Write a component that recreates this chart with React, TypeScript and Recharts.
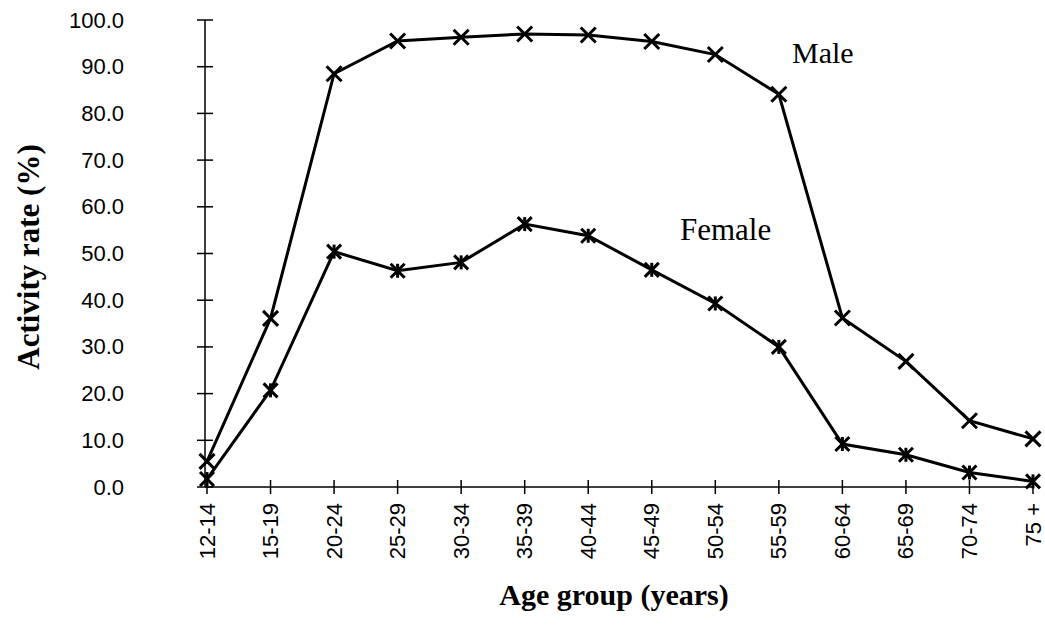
import React from 'react';
import { LineChart, Line, XAxis, YAxis } from 'recharts';

const ageGroups = ['12-14', '15-19', '20-24', '25-29', '30-34', '35-39', '40-44', '45-49', '50-54', '55-59', '60-64', '65-69', '70-74', '75 +'];
const maleRates = [5.5, 36.1, 88.5, 95.5, 96.3, 97.0, 96.8, 95.4, 92.6, 84.1, 36.2, 26.9, 14.2, 10.3];
const femaleRates = [1.7, 20.7, 50.4, 46.3, 48.1, 56.3, 53.8, 46.5, 39.3, 30.0, 9.2, 6.9, 3.1, 1.2];
const yTicks = [0, 10, 20, 30, 40, 50, 60, 70, 80, 90, 100];

const yTitle = 'Activity rate (%)';
const xTitle = 'Age group (years)';
const maleLabel = 'Male';
const femaleLabel = 'Female';

const data = ageGroups.map((g, i) => ({ group: g, male: maleRates[i], female: femaleRates[i] }));

const SANS = '"Liberation Sans", Arial, sans-serif';
const SERIF = '"Liberation Serif", "Times New Roman", serif';

function YTick(props: any) {
  const { x, y, payload } = props;
  return (
    <g>
      <line x1={x - 8} x2={x + 8} y1={y} y2={y} stroke="#000" strokeWidth={1.5} />
      <text x={x - 81} y={y} textAnchor="end" dominantBaseline="central" fontSize={22} fontFamily={SANS} fill="#000">
        {Number(payload.value).toFixed(1)}
      </text>
    </g>
  );
}

function XTick(props: any) {
  const { x, y, payload } = props;
  const ty = y + 16;
  return (
    <g>
      <line x1={x} x2={x} y1={y - 7} y2={y + 7} stroke="#000" strokeWidth={1.5} />
      <text
        x={x}
        y={ty}
        transform={`rotate(-90, ${x}, ${ty})`}
        textAnchor="end"
        dominantBaseline="central"
        fontSize={22}
        fontFamily={SANS}
        fill="#000"
      >
        {payload.value}
      </text>
    </g>
  );
}

function MaleDot(props: any) {
  const { cx, cy, index } = props;
  if (cx == null || cy == null) return <g key={`m-${index}`} />;
  const r = 7.5;
  return (
    <g key={`m-${index}`}>
      <line x1={cx - r} y1={cy - r} x2={cx + r} y2={cy + r} stroke="#000" strokeWidth={3} />
      <line x1={cx - r} y1={cy + r} x2={cx + r} y2={cy - r} stroke="#000" strokeWidth={3} />
    </g>
  );
}

function FemaleDot(props: any) {
  const { cx, cy, index } = props;
  if (cx == null || cy == null) return <g key={`f-${index}`} />;
  const r = 7;
  return (
    <g key={`f-${index}`}>
      <line x1={cx - r} y1={cy - r} x2={cx + r} y2={cy + r} stroke="#000" strokeWidth={3} />
      <line x1={cx - r} y1={cy + r} x2={cx + r} y2={cy - r} stroke="#000" strokeWidth={3} />
      <line x1={cx} y1={cy - r} x2={cx} y2={cy + r} stroke="#000" strokeWidth={3} />
    </g>
  );
}

export default function App() {
  return (
    <div style={{ position: 'absolute', left: 0, top: 0, width: 1045, height: 631, background: '#fff' }}>
      <LineChart width={1045} height={631} data={data} margin={{ top: 20, right: 12, bottom: 0, left: 0 }}>
        <XAxis
          dataKey="group"
          height={144}
          interval={0}
          tickSize={0}
          tickMargin={0}
          tickLine={false}
          axisLine={{ stroke: '#000', strokeWidth: 1.5 }}
          tick={<XTick />}
          padding={{ left: 2, right: 0 }}
        />
        <YAxis
          width={205}
          domain={[0, 100]}
          ticks={yTicks}
          interval={0}
          tickSize={0}
          tickMargin={0}
          tickLine={false}
          axisLine={{ stroke: '#000', strokeWidth: 1.5 }}
          tick={<YTick />}
        />
        <Line
          type="linear"
          dataKey="male"
          stroke="#000"
          strokeWidth={3}
          dot={(p: any) => <MaleDot key={`m-${p.index}`} {...p} />}
          activeDot={false}
          isAnimationActive={false}
        />
        <Line
          type="linear"
          dataKey="female"
          stroke="#000"
          strokeWidth={3}
          dot={(p: any) => <FemaleDot key={`f-${p.index}`} {...p} />}
          activeDot={false}
          isAnimationActive={false}
        />
      </LineChart>
      <svg width={1045} height={631} style={{ position: 'absolute', left: 0, top: 0, pointerEvents: 'none' }}>
        <text
          x={28}
          y={257}
          transform="rotate(-90, 28, 257)"
          textAnchor="middle"
          dominantBaseline="central"
          fontSize={31}
          fontWeight="bold"
          fontFamily={SERIF}
          fill="#000"
        >
          {yTitle}
        </text>
        <text x={614} y={605} textAnchor="middle" fontSize={30} fontWeight="bold" fontFamily={SERIF} fill="#000">
          {xTitle}
        </text>
        <text x={792} y={63} fontSize={30} fontFamily={SERIF} fill="#000">
          {maleLabel}
        </text>
        <text x={680} y={240} fontSize={31} fontFamily={SERIF} fill="#000">
          {femaleLabel}
        </text>
      </svg>
    </div>
  );
}
